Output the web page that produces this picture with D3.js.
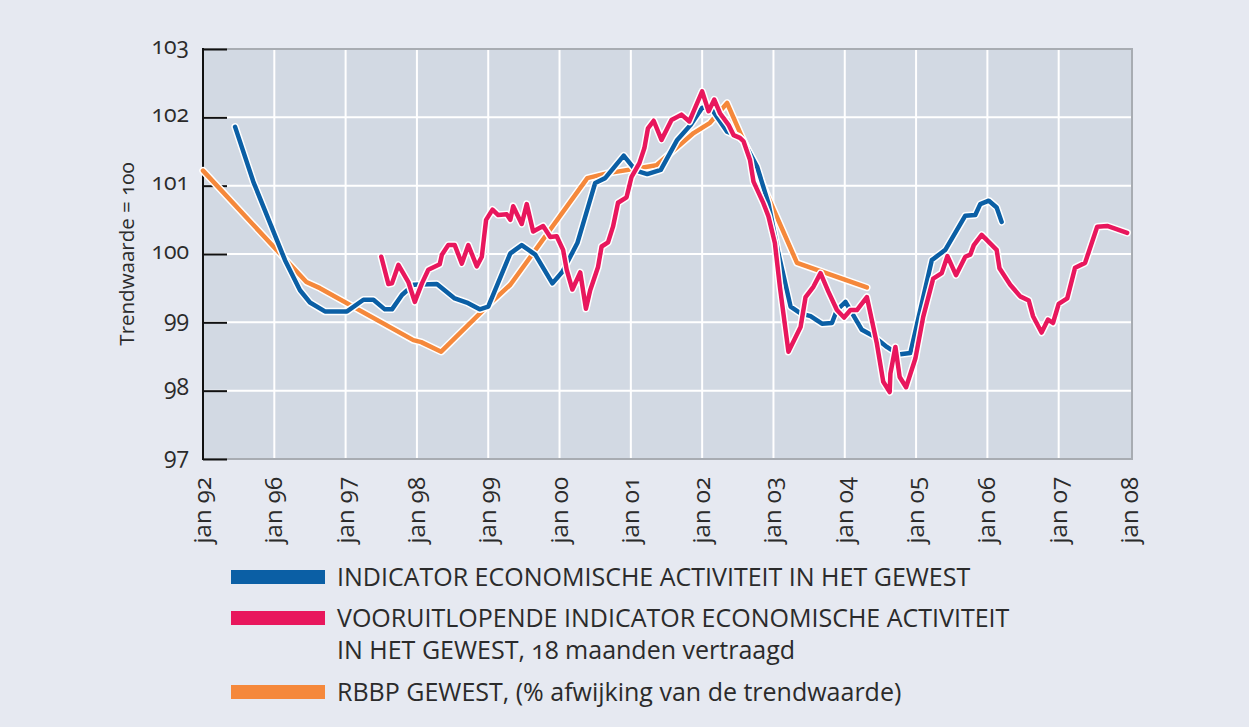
<!DOCTYPE html>
<html lang="nl">
<head>
<meta charset="UTF-8">
<title>Indicator economische activiteit</title>
<style>
  body { margin: 0; background: #e6e9f1; }
  svg text { font-family: "Open Sans", Lato, sans-serif; fill: #2b2b2b; font-feature-settings: "onum" 1; }
</style>
</head>
<body>
<script src="https://d3js.org/d3.v7.min.js"></script>
<script>
// tick labels on the (irregular) time axis: jan 92 -> jan 96 gets the same width as one year
var tickYears = [1992, 1996, 1997, 1998, 1999, 2000, 2001, 2002, 2003, 2004, 2005, 2006, 2007, 2008];
var tickLabels = ["jan 92", "jan 96", "jan 97", "jan 98", "jan 99", "jan 00", "jan 01", "jan 02",
                  "jan 03", "jan 04", "jan 05", "jan 06", "jan 07", "jan 08"];
var yTicks = [97, 98, 99, 100, 101, 102, 103];

// INDICATOR ECONOMISCHE ACTIVITEIT IN HET GEWEST
var blueT = [1993.8, 1994.82, 1996.15, 1996.36, 1996.5, 1996.71, 1997.02, 1997.25, 1997.39, 1997.55,
  1997.65, 1997.79, 1997.95, 1998.28, 1998.53, 1998.7, 1998.88, 1999.0, 1999.31, 1999.47, 1999.66,
  1999.9, 2000.04, 2000.25, 2000.5, 2000.64, 2000.9, 2001.07, 2001.23, 2001.42, 2001.65, 2001.84,
  2002.0, 2002.12, 2002.35, 2002.51, 2002.58, 2002.77, 2002.93, 2003.07, 2003.24, 2003.38, 2003.52,
  2003.68, 2003.82, 2003.89, 2004.01, 2004.24, 2004.4, 2004.59, 2004.75, 2004.92, 2005.22, 2005.41,
  2005.69, 2005.83, 2005.9, 2006.02, 2006.13, 2006.2];
var blueV = [101.86, 101.06, 99.91, 99.47, 99.29, 99.16, 99.16, 99.33, 99.33, 99.19,
  99.19, 99.4, 99.55, 99.56, 99.35, 99.29, 99.19, 99.23, 100.01, 100.13, 99.99,
  99.57, 99.74, 100.16, 101.04, 101.11, 101.44, 101.22, 101.17, 101.23, 101.67, 101.89,
  102.14, 102.14, 101.79, 101.72, 101.65, 101.28, 100.74, 100.01, 99.23, 99.13, 99.09,
  98.98, 98.99, 99.18, 99.3, 98.89, 98.8, 98.64, 98.53, 98.55, 99.91, 100.06,
  100.56, 100.57, 100.73, 100.78, 100.68, 100.47];

// VOORUITLOPENDE INDICATOR, 18 maanden vertraagd
var pinkT = [1997.5, 1997.6, 1997.65, 1997.74, 1997.88, 1997.97, 1998.07, 1998.16, 1998.32, 1998.35,
  1998.44, 1998.53, 1998.63, 1998.72, 1998.84, 1998.91, 1998.97, 1999.06, 1999.14, 1999.26, 1999.31,
  1999.35, 1999.47, 1999.54, 1999.63, 1999.77, 1999.87, 1999.96, 2000.05, 2000.1, 2000.18, 2000.29,
  2000.37, 2000.43, 2000.54, 2000.59, 2000.68, 2000.75, 2000.82, 2000.94, 2001.01, 2001.12, 2001.19,
  2001.24, 2001.32, 2001.43, 2001.57, 2001.71, 2001.82, 2002.0, 2002.09, 2002.17, 2002.25, 2002.37,
  2002.44, 2002.53, 2002.58, 2002.67, 2002.72, 2002.86, 2002.93, 2003.02, 2003.09, 2003.21, 2003.38,
  2003.45, 2003.56, 2003.66, 2003.77, 2003.89, 2003.99, 2004.08, 2004.17, 2004.31, 2004.45, 2004.54,
  2004.63, 2004.64, 2004.71, 2004.77, 2004.86, 2004.99, 2005.1, 2005.24, 2005.36, 2005.44, 2005.56,
  2005.69, 2005.76, 2005.81, 2005.92, 2006.13, 2006.17, 2006.32, 2006.46, 2006.58, 2006.64, 2006.76,
  2006.85, 2006.92, 2007.0, 2007.12, 2007.23, 2007.37, 2007.54, 2007.68, 2007.96];
var pinkV = [99.96, 99.56, 99.57, 99.84, 99.59, 99.3, 99.57, 99.77, 99.85, 99.99,
  100.13, 100.13, 99.86, 100.13, 99.82, 99.96, 100.5, 100.65, 100.57, 100.58, 100.5,
  100.7, 100.44, 100.73, 100.33, 100.41, 100.25, 100.26, 100.06, 99.77, 99.48, 99.73,
  99.2, 99.47, 99.81, 100.11, 100.17, 100.4, 100.75, 100.83, 101.13, 101.33, 101.55,
  101.84, 101.95, 101.67, 101.96, 102.04, 101.94, 102.38, 102.09, 102.26, 102.06, 101.89,
  101.74, 101.7, 101.65, 101.38, 101.06, 100.74, 100.55, 100.16, 99.52, 98.57, 98.93,
  99.37, 99.52, 99.72, 99.45, 99.18, 99.07, 99.18, 99.18, 99.37, 98.69, 98.13,
  97.98, 98.25, 98.64, 98.2, 98.05, 98.47, 99.08, 99.64, 99.72, 99.97, 99.69,
  99.96, 99.99, 100.13, 100.28, 100.06, 99.79, 99.55, 99.38, 99.32, 99.09, 98.85,
  99.04, 98.99, 99.27, 99.35, 99.8, 99.87, 100.4, 100.41, 100.31];

// RBBP GEWEST
var orangeT = [1992.0, 1996.45, 1996.64, 1997.95, 1998.06, 1998.34, 1999.03, 1999.31, 2000.39,
  2000.66, 2001.36, 2001.88, 2002.11, 2002.35, 2003.33, 2004.31];
var orangeV = [101.22, 99.59, 99.5, 98.74, 98.71, 98.57, 99.28, 99.55, 101.11,
  101.18, 101.3, 101.77, 101.92, 102.21, 99.87, 99.51];

var legendLabels = [
  ["INDICATOR ECONOMISCHE ACTIVITEIT IN HET GEWEST"],
  ["VOORUITLOPENDE INDICATOR ECONOMISCHE ACTIVITEIT", "IN HET GEWEST, 18 maanden vertraagd"],
  ["RBBP GEWEST, (% afwijking van de trendwaarde)"]
];
var colors = ["#0b5fa5", "#e8175d", "#f5883b"];

var W = 1249, H = 727;
var plotL = 203, plotR = 1132, plotT = 49, plotB = 459;

var svg = d3.select("body").append("svg").attr("width", W).attr("height", H);
svg.append("rect").attr("width", W).attr("height", H).attr("fill", "#e6e9f1");

var x = d3.scaleLinear()
  .domain(tickYears)
  .range(tickYears.map(function(d, i) { return plotL + i * (plotR - plotL - 2) / (tickYears.length - 1); }));
var y = d3.scaleLinear().domain([97, 103]).range([plotB, plotT]);

// plot area
svg.append("rect").attr("x", plotL).attr("y", plotT).attr("width", plotR - plotL).attr("height", plotB - plotT)
  .attr("fill", "#d2d9e3").attr("stroke", "#a8acb2").attr("stroke-width", 2);

// grid
svg.append("g").selectAll("line").data(tickYears.slice(1, -1)).enter().append("line")
  .attr("x1", function(d) { return x(d); }).attr("x2", function(d) { return x(d); })
  .attr("y1", plotT + 1).attr("y2", plotB - 1)
  .attr("stroke", "#fff").attr("stroke-width", 2);
svg.append("g").selectAll("line").data(yTicks.slice(1, -1)).enter().append("line")
  .attr("x1", plotL).attr("x2", plotR - 1)
  .attr("y1", function(d) { return y(d); }).attr("y2", function(d) { return y(d); })
  .attr("stroke", "#fff").attr("stroke-width", 2);

// y axis (ticks inside the plot)
var yAxis = svg.append("g").attr("transform", "translate(" + plotL + ",0)")
  .call(d3.axisRight(y).tickValues(yTicks).tickSize(24).tickFormat(""));
yAxis.select(".domain").remove();
yAxis.selectAll("line").attr("stroke", "#111").attr("stroke-width", 2);
svg.append("line").attr("x1", plotL).attr("x2", plotL).attr("y1", plotT - 1).attr("y2", plotB + 1)
  .attr("stroke", "#111").attr("stroke-width", 2);

svg.append("g").selectAll("text").data(yTicks).enter().append("text")
  .attr("x", plotL - 14).attr("y", function(d) { return y(d); })
  .attr("dy", "0.2em").attr("text-anchor", "end")
  .style("font-size", "23px")
  .text(function(d) { return d; });

svg.append("text")
  .attr("transform", "translate(134," + y(100) + ") rotate(-90)")
  .attr("text-anchor", "middle")
  .style("font-size", "20.5px")
  .text("Trendwaarde = 100");

// x labels
svg.append("g").selectAll("text").data(tickYears).enter().append("text")
  .attr("transform", function(d) { return "translate(" + (x(d) + 8) + "," + (plotB + 18) + ") rotate(-90)"; })
  .attr("text-anchor", "end")
  .style("font-size", "24px")
  .text(function(d, i) { return tickLabels[i]; });

// lines with white halo
var line = d3.line()
  .x(function(d) { return x(d[0]); })
  .y(function(d) { return y(d[1]); });

var series = [
  { t: orangeT, v: orangeV, c: colors[2] },
  { t: blueT, v: blueV, c: colors[0] },
  { t: pinkT, v: pinkV, c: colors[1] }
];
series.forEach(function(s) {
  var pts = s.t.map(function(t, i) { return [t, s.v[i]]; });
  svg.append("path").datum(pts).attr("d", line).attr("fill", "none")
    .attr("stroke", "#fff").attr("stroke-width", 7.5).attr("stroke-linejoin", "round").attr("stroke-linecap", "round");
  svg.append("path").datum(pts).attr("d", line).attr("fill", "none")
    .attr("stroke", s.c).attr("stroke-width", 4.5).attr("stroke-linejoin", "round").attr("stroke-linecap", "round");
});

// legend
var legendY = [577, 618, 692];
legendLabels.forEach(function(lines, i) {
  svg.append("rect").attr("x", 231).attr("y", legendY[i] - 7).attr("width", 94).attr("height", 14)
    .attr("fill", colors[i]);
  lines.forEach(function(txt, j) {
    svg.append("text").attr("x", 337).attr("y", legendY[i] + j * 32).attr("dy", "0.36em")
      .style("font-size", "25px")
      .text(txt);
  });
});
</script>
</body>
</html>
